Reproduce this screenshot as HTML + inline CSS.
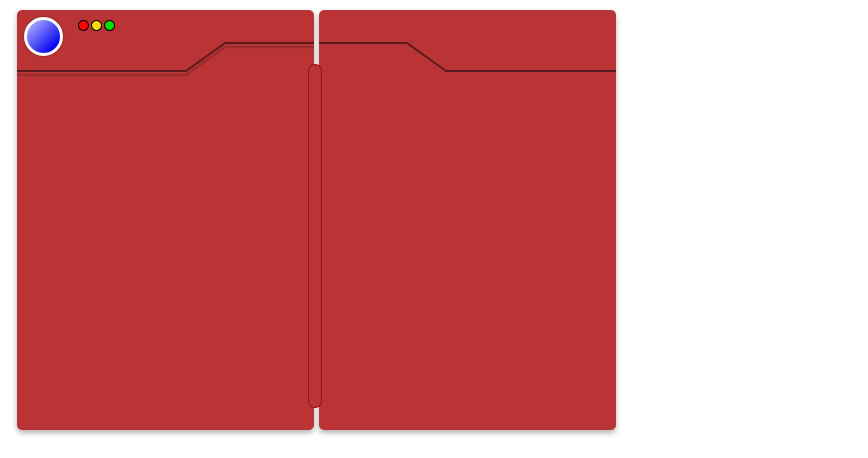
<!DOCTYPE html>
<html><head><meta charset="utf-8"><style>
body{margin:0;width:868px;height:458px;background:#fff;position:relative;overflow:hidden;font-family:"Liberation Sans",sans-serif}
.panel{position:absolute;background:#bb3435;border-radius:5px;box-shadow:0 3px 6px rgba(0,0,0,0.3)}
</style></head><body>
<div class="panel" style="left:17px;top:10px;width:297px;height:420px"></div>
<div class="panel" style="left:319px;top:10px;width:297px;height:420px"></div>
<svg width="868" height="458" style="position:absolute;left:0;top:0">
<polyline points="17,75 186,75 225,47 314,47" fill="none" stroke="#8f2a2a" stroke-width="2.5" opacity="0.7"/>
<polyline points="17,71 186,71 225,43 314,43" fill="none" stroke="#5a1a1a" stroke-width="2"/>
<polyline points="319,43 407,43 446,71 616,71" fill="none" stroke="#5a1a1a" stroke-width="2"/>
</svg>
<div style="position:absolute;left:308px;top:64px;width:12px;height:342px;background:#bb3435;border:1px solid #9a0f0f;border-radius:7px"></div>
<div style="position:absolute;left:24px;top:17px;width:33px;height:33px;border:3px solid #fff;border-radius:50%;background:linear-gradient(135deg,#a8a8ff 10%,#0000f0 85%);box-shadow:0 0 2px rgba(0,0,0,0.5)"></div>
<div style="position:absolute;left:78px;top:20px;width:9px;height:9px;border:1px solid #000;border-radius:50%;background:#f00"></div>
<div style="position:absolute;left:91px;top:20px;width:9px;height:9px;border:1px solid #000;border-radius:50%;background:#ffdd00"></div>
<div style="position:absolute;left:104px;top:20px;width:9px;height:9px;border:1px solid #000;border-radius:50%;background:#0d0"></div>
</body></html>
